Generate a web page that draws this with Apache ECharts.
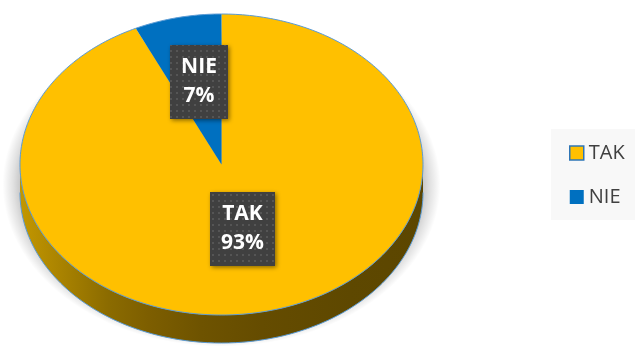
<!DOCTYPE html>
<html>
<head>
<meta charset="utf-8">
<script src="https://cdn.jsdelivr.net/npm/echarts@6/dist/echarts.min.js"></script>
<style>
  html, body { margin: 0; padding: 0; background: #ffffff; }
  #chart { width: 635px; height: 347px; }
</style>
</head>
<body>
<div id="chart"></div>
<script>
// Survey answers
const categories = ['TAK', 'NIE'];
const values = [93, 7];

// Styling
const palette = ['#FFC000', '#0070C0'];
const sideStops = [
  [[0, '#C39700'], [0.22, '#8B6B00'], [0.32, '#7D5E00'], [0.45, '#6E5300'], [0.6, '#654C00'], [0.82, '#5E4800'], [1, '#5C4600']],
  [[0, '#00589A'], [0.5, '#003F70'], [1, '#00325A']]
];
const labelRadius = [0.44, 0.56];
const EDGE = '#5B9BD5';
const PIE = { cx: 221.5, cy: 164.5, rx: 201.5, ry: 150.5, depth: 28 };
const SHADOW = { dy: 20, rx: 219, ry: 162 };
const LABEL = { font: 'bold 21px "Open Sans"', padX: 11, padY: 8, lineHeight: 29 };

const total = values.reduce((a, b) => a + b, 0);
const starts = [];
values.reduce((acc, v) => { starts.push(acc); return acc + v; }, 0);

// point on the (flattened) pie rim; angle in degrees, counter-clockwise from 3 o'clock
function pt(deg, dy, f) {
  const r = deg * Math.PI / 180;
  const k = f == null ? 1 : f;
  return [PIE.cx + PIE.rx * k * Math.cos(r), PIE.cy - PIE.ry * k * Math.sin(r) + (dy || 0)];
}
function arc(a0, a1, dy) {
  const n = Math.max(2, Math.ceil(Math.abs(a1 - a0) / 1.0));
  const out = [];
  for (let i = 0; i <= n; i++) out.push(pt(a0 + (a1 - a0) * i / n, dy));
  return out;
}

// dotted tile for the label boxes
const tile = document.createElement('canvas');
tile.width = 6; tile.height = 6;
const tctx = tile.getContext('2d');
tctx.fillStyle = '#404040'; tctx.fillRect(0, 0, 6, 6);
tctx.fillStyle = '#555555'; tctx.fillRect(2, 2, 2, 2);

const meas = document.createElement('canvas').getContext('2d');
meas.font = LABEL.font;
function textWidth(s) { return meas.measureText(s).width; }

function renderSlice(i) {
  return function (params, api) {
    const v = api.value(0);
    const a0 = 90 - 360 * starts[i] / total;
    const a1 = a0 - 360 * v / total;
    const children = [];

    if (i === 0) {
      // soft shadow: a flattened disc with a fading radial fill, lying under the pie
      children.push({
        type: 'circle', z2: 0,
        x: PIE.cx, y: PIE.cy + SHADOW.dy, scaleY: SHADOW.ry / SHADOW.rx,
        shape: { cx: 0, cy: 0, r: SHADOW.rx },
        style: {
          fill: {
            type: 'radial', x: 0.5, y: 0.5, r: 0.5,
            colorStops: [
              { offset: 0, color: 'rgba(0,0,0,0.30)' },
              { offset: 0.9, color: 'rgba(0,0,0,0.27)' },
              { offset: 0.95, color: 'rgba(0,0,0,0.12)' },
              { offset: 1, color: 'rgba(0,0,0,0)' }
            ]
          }
        }
      });
    }

    // visible (front) part of the slice's side wall
    for (let k = -2; k <= 1; k++) {
      const lo = Math.max(a1, -180 + 360 * k);
      const hi = Math.min(a0, 360 * k);
      if (hi > lo) {
        const pts = arc(hi, lo, 0).concat(arc(lo, hi, PIE.depth));
        children.push({
          type: 'polygon', shape: { points: pts }, z2: 1,
          style: {
            fill: {
              type: 'linear', global: true,
              x: PIE.cx - PIE.rx, y: 0, x2: PIE.cx + PIE.rx, y2: 0,
              colorStops: sideStops[i].map(s => ({ offset: s[0], color: s[1] }))
            }
          }
        });
        children.push({
          type: 'polyline', shape: { points: arc(hi, lo, PIE.depth) }, z2: 2,
          style: { stroke: EDGE, lineWidth: 1, fill: 'none' }
        });
      }
    }

    // top face
    children.push({
      type: 'polygon', z2: 5,
      shape: { points: [[PIE.cx, PIE.cy]].concat(arc(a0, a1, 0)) },
      style: { fill: palette[i] }
    });
    children.push({
      type: 'polyline', z2: 6,
      shape: { points: arc(a0, a1, 0) },
      style: { stroke: EDGE, lineWidth: 1, fill: 'none' }
    });

    // data label
    const c = pt((a0 + a1) / 2, 0, labelRadius[i]);
    const lines = [categories[i], Math.round(v / total * 100) + '%'];
    const w = Math.round(Math.max(...lines.map(textWidth)) + 2 * LABEL.padX);
    const h = lines.length * LABEL.lineHeight + 2 * LABEL.padY;
    const bx = Math.round(c[0] - w / 2 + 2), by = Math.round(c[1] - h / 2);
    children.push({
      type: 'rect', z2: 10,
      shape: { x: bx, y: by, width: w, height: h },
      style: {
        fill: { type: 'pattern', image: tile, repeat: 'repeat' },
        shadowBlur: 4, shadowOffsetX: 1.5, shadowOffsetY: 1.5, shadowColor: 'rgba(0,0,0,0.45)'
      }
    });
    children.push({
      type: 'text', z2: 11, x: bx + w / 2, y: by + h / 2,
      style: {
        text: lines.join('\n'), fill: '#ffffff', font: LABEL.font,
        align: 'center', verticalAlign: 'middle', lineHeight: LABEL.lineHeight
      }
    });

    return { type: 'group', children: children };
  };
}

const chart = echarts.init(document.getElementById('chart'), null, { renderer: 'canvas' });
chart.setOption({
  animation: false,
  backgroundColor: '#ffffff',
  legend: {
    orient: 'vertical',
    left: 551, top: 129,
    padding: [14, 24, 13, 18],
    backgroundColor: '#F8F8F8',
    itemWidth: 14, itemHeight: 14, itemGap: 24,
    itemTextGap: 6,
    textStyle: { fontFamily: 'Open Sans', fontSize: 20, color: '#404040', lineHeight: 20 },
    data: categories.map((name, i) => ({
      name: name, icon: 'rect',
      itemStyle: i === 0
        ? { color: palette[i], borderColor: '#2E75B6', borderWidth: 1.5 }
        : { color: palette[i], borderWidth: 0 }
    }))
  },
  series: categories.map((name, i) => ({
    type: 'custom',
    name: name,
    coordinateSystem: 'none',
    itemStyle: { color: palette[i] },
    renderItem: renderSlice(i),
    data: [[values[i]]]
  }))
});
</script>
</body>
</html>
